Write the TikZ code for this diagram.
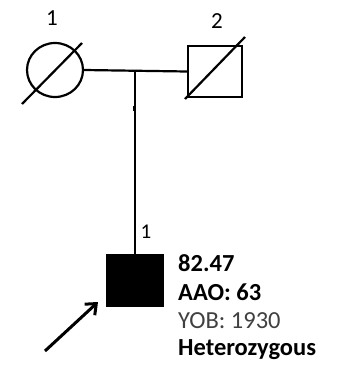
\documentclass[tikz,border=0pt]{standalone}
\usepackage{fontspec}
\setmainfont{Carlito}
\usetikzlibrary{arrows.meta,shapes.geometric}
\begin{document}
\begin{tikzpicture}[x=1pt,y=-1pt,
  sym/.style={draw=black,line width=2.2pt},
  lnk/.style={draw=black,line width=2.2pt},
  lab/.style={font=\fontsize{23}{26}\selectfont,inner sep=0pt},
  info/.style={font=\fontsize{24.5}{28}\selectfont,anchor=west,inner sep=0pt}]
\useasboundingbox (0,0) rectangle (338,367);
% parents
\node[sym,ellipse,minimum width=56,minimum height=54,inner sep=0pt] (mother) at (55,70) {};
\node[sym,rectangle,minimum width=54,minimum height=51,inner sep=0pt] (father) at (215,71.5) {};
\draw[lnk] (22,104) -- (82,43);
\draw[lnk] (185,99) -- (245,37);
\node[lab] (l1) at (52,18) {1};
\node[lab] (l2) at (217,21) {2};
% marriage line
\coordinate (mid) at (135,71);
\draw[lnk] (mother.east) -- (father.west);
% child
\node[draw=black,fill=black,line width=1pt,rectangle,minimum width=57,minimum height=52,inner sep=0pt] (child) at (134.5,280) {};
\draw[lnk] (mid) -- (mid |- child.north);
\fill (132.5,105.5) rectangle (135,110.5);
\node[lab,font=\fontsize{21}{24}\selectfont] (l3) at (146,232) {1};
% info
\node[info] (t1) at (178,263) {\textbf{82.47}};
\node[info] (t2) at (178,292) {\textbf{AAO: 63}};
\node[info,text={rgb,255:red,64;green,64;blue,64}] (t3) at (178,321) {YOB: 1930};
\node[info] (t4) at (178,350) {\textbf{Heterozygous}};
% proband arrow
\coordinate (tail) at (45,351);
\coordinate (tip) at (98,302);
\draw[line width=3pt,-{Straight Barb[length=9pt,width=15pt,line width=3pt]}] (tail) -- (tip);
\end{tikzpicture}
\end{document}
